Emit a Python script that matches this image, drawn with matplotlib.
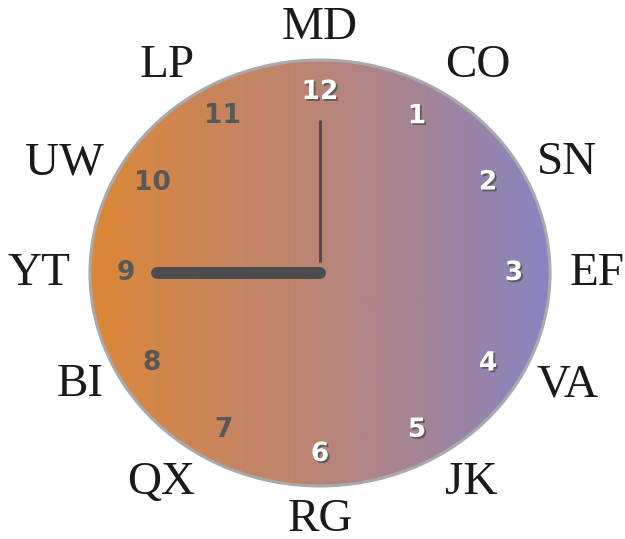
import numpy as np
import matplotlib
matplotlib.use("Agg")
import matplotlib.pyplot as plt
from matplotlib.patches import Ellipse
from matplotlib.colors import LinearSegmentedColormap
import matplotlib.patheffects as pe

labels = ["MD", "CO", "SN", "EF", "VA", "JK", "RG", "QX", "BI", "YT", "UW", "LP"]
numbers = [12, 1, 2, 3, 4, 5, 6, 7, 8, 9, 10, 11]
white_numbers = [12, 1, 2, 3, 4, 5, 6]
hour = 9
minute = 0

W, H = 625, 539
fig = plt.figure(figsize=(W / 100, H / 100), dpi=100)
ax = fig.add_axes([0, 0, 1, 1])
ax.set_xlim(0, W)
ax.set_ylim(H, 0)
ax.axis("off")

cx, cy = 320, 273
ra, rb = 230, 213

cmap = LinearSegmentedColormap.from_list("g", ["#dc8737", "#b98476", "#8984c2"])
grad = np.linspace(0, 1, 256).reshape(1, -1)
im = ax.imshow(grad, cmap=cmap, extent=[cx - ra, cx + ra, cy + rb, cy - rb],
               aspect="auto", zorder=1)
clip = Ellipse((cx, cy), 2 * ra, 2 * rb, transform=ax.transData,
               facecolor="none", edgecolor="none")
ax.add_patch(clip)
im.set_clip_path(clip)
ax.add_patch(Ellipse((cx, cy), 2 * ra, 2 * rb, facecolor="none",
                     edgecolor="#a9a9ab", lw=2.2, zorder=2))

# numbers
na, nb = 194, 181
for i, n in enumerate(numbers):
    ang = np.deg2rad(90 - 30 * i)
    x = cx + na * np.cos(ang)
    y = cy - nb * np.sin(ang)
    if n in white_numbers:
        ax.text(x, y, str(n), ha="center", va="center", fontsize=19,
                fontweight="bold", family="DejaVu Sans", color="white", zorder=4,
                path_effects=[pe.withSimplePatchShadow(offset=(1.3, -1.3),
                                                       shadow_rgbFace="#555555", alpha=0.9)])
    else:
        ax.text(x, y, str(n), ha="center", va="center", fontsize=19,
                fontweight="bold", family="DejaVu Sans", color="#58585a", zorder=4)

# outer labels
la, lb = 250, 246
lcy = 274
for i, lab in enumerate(labels):
    ang = np.deg2rad(90 - 30 * i)
    s = np.sin(ang)
    x = cx + la * np.cos(ang)
    y = lcy - lb * np.sign(s) * np.abs(s) ** 1.15
    if i in (0, 6):
        ha = "center"
    elif i < 6:
        ha = "left"
    else:
        ha = "right"
    ax.text(x, y, lab, ha=ha, va="center", fontsize=34,
            family="Liberation Serif", color="#1a1a1a", zorder=4)

# hands
hang = np.deg2rad(90 - 30 * hour)
hl = 163
ax.plot([cx, cx + hl * np.cos(hang)], [cy, cy - hl * np.sin(hang) * (rb / ra)],
        color="#4d4d4f", lw=8.6, solid_capstyle="round", zorder=5)
mang = np.deg2rad(90 - 6 * minute)
ml = 153
ax.plot([cx, cx + ml * np.cos(mang)], [cy - 11, cy - ml * np.sin(mang)],
        color="#4d4d4f", lw=2.2, solid_capstyle="butt", zorder=5)

fig.savefig("out.png", dpi=100)
